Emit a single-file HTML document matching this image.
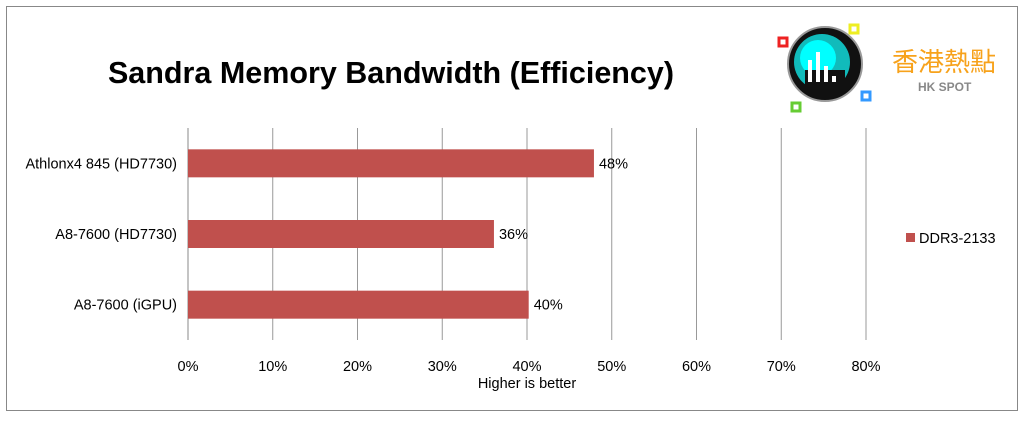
<!DOCTYPE html>
<html><head><meta charset="utf-8"><style>
body{margin:0;background:#fff;width:1024px;height:417px;overflow:hidden;font-family:"Liberation Sans",Arial,sans-serif}
</style></head><body>
<svg width="1024" height="417" xmlns="http://www.w3.org/2000/svg">
<rect x="6.5" y="6.5" width="1011" height="404" fill="#fff" stroke="#888"/>
<text x="391" y="83" text-anchor="middle" font-size="30.5" font-weight="bold" font-family="Liberation Sans,sans-serif">Sandra Memory Bandwidth (Efficiency)</text>
<g>
<circle cx="825" cy="64" r="37" fill="#111" stroke="#999" stroke-width="2"/>
<circle cx="822" cy="62" r="28" fill="#1bb"/>
<circle cx="818" cy="58" r="18" fill="#0ff"/>
<rect x="805" y="70" width="40" height="20" fill="#111"/>
<rect x="808" y="60" width="4" height="22" fill="#fff"/><rect x="816" y="52" width="4" height="30" fill="#fff"/><rect x="824" y="66" width="4" height="16" fill="#fff"/><rect x="832" y="76" width="4" height="6" fill="#fff"/>
<rect x="779" y="38" width="8" height="8" fill="none" stroke="#e22" stroke-width="3"/>
<rect x="850" y="25" width="8" height="8" fill="none" stroke="#ee2" stroke-width="3"/>
<rect x="862" y="92" width="8" height="8" fill="none" stroke="#39f" stroke-width="3"/>
<rect x="792" y="103" width="8" height="8" fill="none" stroke="#6c3" stroke-width="3"/>
<text x="892" y="71" font-size="26" fill="#f7a21b" font-family="Noto Sans CJK TC,sans-serif">香港熱點</text>
<text x="918" y="91" font-size="12" font-weight="bold" fill="#888">HK SPOT</text>
</g>
<g id="plot"></g>
</svg>
<script>
const categories=["Athlonx4 845 (HD7730)","A8-7600 (HD7730)","A8-7600 (iGPU)"];
const values=[47.9,36.1,40.2];
const ticks=[0,10,20,30,40,50,60,70,80];
const x0=188,x1=866,yTop=128,yBot=340,xMax=80;
const xs=v=>x0+(x1-x0)*v/xMax;
const band=(yBot-yTop)/categories.length;
const ys=i=>yTop+band*(i+0.5);
const g=document.getElementById('plot');const NS="http://www.w3.org/2000/svg";
function mk(t,a,txt){const e=document.createElementNS(NS,t);for(const k in a)e.setAttribute(k,a[k]);if(txt!==undefined)e.textContent=txt;g.appendChild(e);return e;}
ticks.forEach(t=>{
 const l=mk('line',{x1:xs(t),x2:xs(t),y1:yTop,y2:yBot,stroke:t===0?'#888':'#999','stroke-width':1});
 
 
 const tx=mk('text',{x:xs(t),y:371,'text-anchor':'middle','font-size':14.5},t+'%');
 
 
});
categories.forEach((c,i)=>{
 const y=ys(i);
 const r=mk('rect',{x:x0,y:y-14,width:xs(values[i])-x0,height:28,fill:'#c0504d'});
 
 
 const lb=mk('text',{x:177,y:y+5,'text-anchor':'end','font-size':14.5},c);
 
 
 const v=mk('text',{x:xs(values[i])+5,y:y+5,'font-size':14.5},Math.round(values[i])+'%');
 
 
});
const xt=mk('text',{x:527,y:388,'text-anchor':'middle','font-size':14.5},'Higher is better');


const lr=mk('rect',{x:906,y:233,width:9,height:9,fill:'#c0504d'});


const lt=mk('text',{x:919,y:243,'font-size':14.5},'DDR3-2133');


</script>
</body></html>
